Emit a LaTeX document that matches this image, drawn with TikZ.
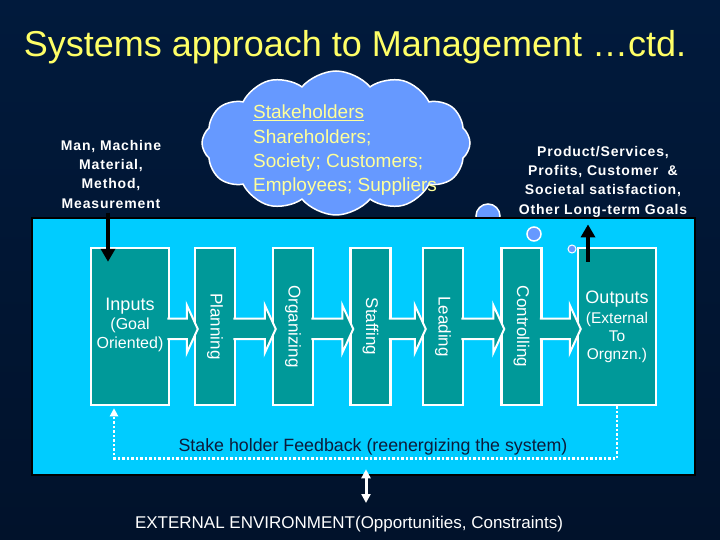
\documentclass[tikz,border=0pt]{standalone}
\usepackage{fontspec}
\setmainfont{Liberation Sans}
\newfontfamily\labelfont[LetterSpace=6]{Liberation Sans}
\usepackage{graphicx}
\usetikzlibrary{
  arrows.meta,
  positioning,
  calc,
  shapes.symbols
}
\definecolor{bgtop}{HTML}{011A3C}
\definecolor{bgmid}{HTML}{073362}
\definecolor{bgbot}{HTML}{01122B}
\definecolor{titleyellow}{HTML}{FFFF66}
\definecolor{cloudyellow}{HTML}{FFFF99}
\definecolor{cloudblue}{HTML}{6699FF}
\definecolor{systemcyan}{HTML}{00CCFF}
\definecolor{stageteal}{HTML}{009999}
\definecolor{feedbackink}{HTML}{0D1B3A}

\begin{document}
\begin{tikzpicture}[x=1pt, y=-1pt,
  title/.style     = {text=titleyellow, inner sep=0, font=\fontsize{36}{40}\selectfont},
  sidelabel/.style = {text=white, inner sep=0, align=center, font=\labelfont\bfseries\fontsize{14}{19.3}\selectfont},
  cloudtext/.style = {text=cloudyellow, inner sep=0, align=left, font=\fontsize{19}{24.3}\selectfont},
  bubble/.style    = {circle, fill=cloudblue, draw=white, line width=1.5, inner sep=0},
  system/.style    = {fill=systemcyan, draw=black, line width=2.5, minimum width=663, minimum height=257, inner sep=0},
  stagebox/.style  = {fill=stageteal, draw=white, line width=2.5, minimum height=157, inner sep=0, text=white, align=center},
  stagetext/.style = {font=\fontsize{17}{20}\selectfont},
  blockarrow/.style= {fill=stageteal, draw=white, line width=2, line join=miter},
  thickarrow/.style= {draw=black, line width=4.5, -{Triangle[width=14pt, length=13pt]}},
  feedbackline/.style = {draw=white, line width=2.5, dash pattern=on 2.5pt off 2pt, -{Triangle[width=8pt, length=8pt]}},
  envarrow/.style  = {draw=white, line width=3, {Triangle[width=9pt, length=9pt]}-{Triangle[width=9pt, length=9pt]}}
]
  % Background
  \shade [top color=bgtop, middle color=bgmid, bottom color=bgbot] (0,0) rectangle (720,540);
  \useasboundingbox (0,0) rectangle (720,540);

  % Title
  \node [title, anchor=base] (title) at (355,57) {Systems approach to Management …ctd.};

  % Stakeholder cloud
  \node [cloud, cloud puffs=12, cloud puff arc=100, aspect=1.85, fill=cloudblue, draw=white, line width=1.5,
         minimum width=268, minimum height=144] (cloud) at (336,143) {};
  \node [cloudtext, anchor=north west] (stakeholders) at (253,105)
        {\underline{Stakeholders}\\Shareholders;\\Society; Customers;\\Employees; Suppliers};
  \node [bubble, minimum size=24] (bubblebig) at (488,216) {};

  % Side labels
  \node [sidelabel, anchor=north] (resources) at (111,140) {Man, Machine\\Material,\\Method,\\Measurement};
  \node [sidelabel, anchor=north] (goals) at (603,146)
        {Product/Services,\\Profits, Customer \ \&\\Societal satisfaction,\\Other Long-term Goals};

  % The system
  \node [system] (system) at (363.5,346.5) {};
  \node [bubble, minimum size=14] (bubblemid) at (534,234) {};
  \node [bubble, minimum size=8, line width=1] (bubblesmall) at (572,249) {};

  % Stages
  \node [stagebox, minimum width=78, font=\fontsize{16}{19.5}\selectfont] (inputs) at (130,326.5)
        {\mbox{}\\[-9.5pt]\fontsize{18}{20}\selectfont Inputs\\[-1pt] (Goal\\Oriented)};
  \foreach \name/\xpos/\txt in {planning/215/Planning, organizing/293/Organizing, staffing/370.5/Staffing,
                                leading/443/Leading, controlling/521.5/Controlling}
    \node [stagebox, stagetext, minimum width=40] (\name) at (\xpos,326.5) {\rotatebox{-90}{\txt}};
  \node [stagebox, minimum width=78, font=\fontsize{15.5}{18}\selectfont] (outputs) at (617,326.5)
        {\fontsize{18}{20}\selectfont Outputs\\[2pt](External\\To\\Orgnzn.)};

  % Block arrows between stages
  \foreach \from/\to in {inputs/planning, planning/organizing, organizing/staffing,
                         staffing/leading, leading/controlling, controlling/outputs}
    \draw [blockarrow] ($(\from.east)+(-3,-8)$) -- ($(\to.west)+(-7,-8)$) -- ($(\to.west)+(-7,-21.5)$)
          -- ($(\to.west)+(4,2.5)$) -- ($(\to.west)+(-7,26.5)$) -- ($(\to.west)+(-7,12.5)$)
          -- ($(\from.east)+(-3,12.5)$);

  % Inputs and outputs
  \draw [thickarrow] ($(resources.south)+(-3,4)$) -- ($(inputs.north)+(-22,15)$);
  \draw [thickarrow] ($(outputs.north)+(-29,15)$) -- ($(goals.south)+(-15,7)$);

  % Feedback
  \draw [feedbackline] (outputs.south) -- ++(0,52) -| ($(inputs.south)+(-16,2)$);
  \node [text=feedbackink, inner sep=0, font=\fontsize{17.8}{20}\selectfont] (feedback) at (373,447)
        {Stake holder Feedback (reenergizing the system)};

  % External environment
  \node [text=white, inner sep=0, anchor=base, font=\fontsize{17}{20}\selectfont] (extenv) at (349,528)
        {EXTERNAL ENVIRONMENT(Opportunities, Constraints)};
  \coordinate (envlink) at (366,503);
  \draw [envarrow] ($(system.south)+(2.5,-7)$) -- (envlink);
\end{tikzpicture}
\end{document}
